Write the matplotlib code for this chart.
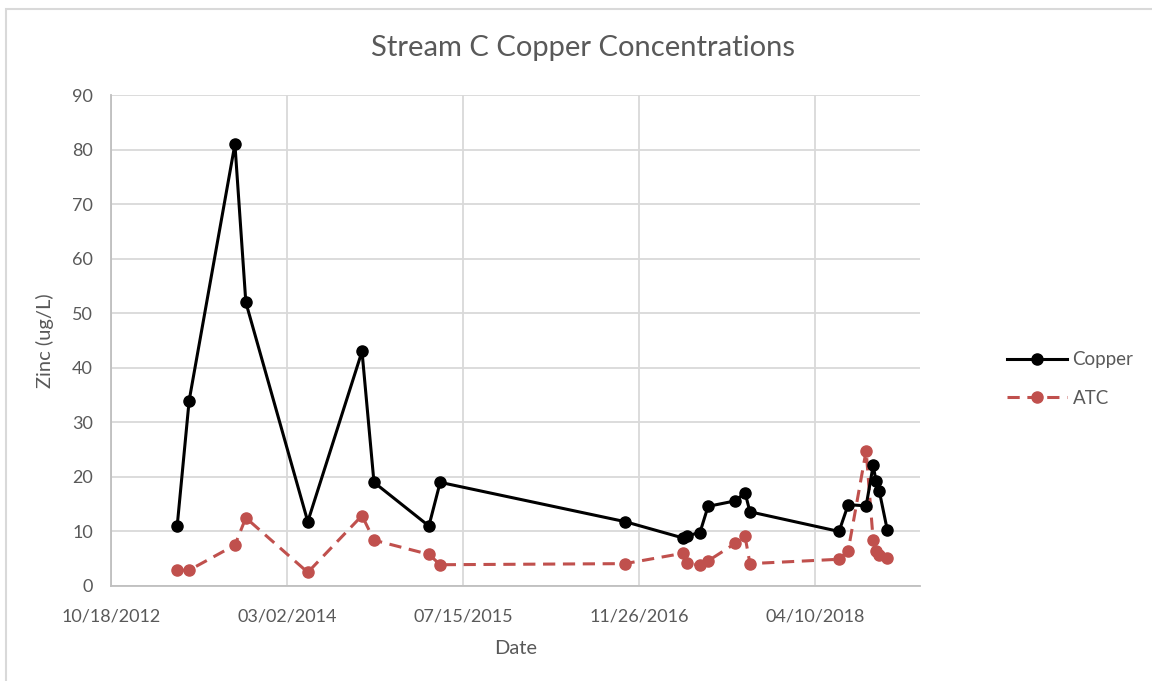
import numpy as np
import pandas as pd
import matplotlib
matplotlib.use('Agg')
import matplotlib.pyplot as plt
import matplotlib.dates as mdates
from matplotlib.patches import Rectangle

# sample dates
dates = ['2013-04-24', '2013-05-28', '2013-10-05', '2013-11-05', '2014-04-30',
         '2014-10-01', '2014-11-04', '2015-04-09', '2015-05-11', '2016-10-17',
         '2017-03-31', '2017-04-11', '2017-05-18', '2017-06-10', '2017-08-26',
         '2017-09-23', '2017-10-07', '2018-06-17', '2018-07-13', '2018-09-02',
         '2018-09-22', '2018-09-30', '2018-10-09', '2018-11-01']
copper = [11.0, 34.0, 81.0, 52.0, 11.8, 43.0, 19.0, 11.0, 19.0, 11.8,
          8.8, 9.2, 9.8, 14.6, 15.6, 17.1, 13.6, 10.0, 14.9, 14.7,
          22.1, 19.3, 17.5, 10.3]
atc = [2.9, 2.9, 7.5, 12.5, 2.5, 12.9, 8.4, 5.8, 3.9, 4.1,
       6.0, 4.2, 3.8, 4.6, 7.8, 9.1, 4.1, 4.9, 6.5, 24.8,
       8.4, 6.4, 5.6, 5.2]

x_start = '2012-10-18'
x_end = '2019-02-02'
tick_step_days = 500

t = pd.to_datetime(dates)
x0 = pd.Timestamp(x_start)
x1 = pd.Timestamp(x_end)
ticks = pd.date_range(x0, x1, freq='{}D'.format(tick_step_days))

plt.rcParams['font.family'] = ['Lato', 'DejaVu Sans']
txt = '#595959'
grid = '#d9d9d9'

fig = plt.figure(figsize=(11.52, 6.81), dpi=100)
# chart-area frame (only top/left edges visible in the screenshot)
fig.patches.append(Rectangle((6 / 1152, -0.1), 1.2, (681 - 9) / 681 + 0.1,
                             transform=fig.transFigure, fill=False,
                             edgecolor='#d9d9d9', linewidth=1.5))

ax = fig.add_axes([111 / 1152, 1 - 586 / 681, (920 - 111) / 1152, (586 - 95) / 681])

ax.plot(t, copper, color='black', linewidth=2.2, marker='o', markersize=8,
        label='Copper', zorder=3)
ax.plot(t, atc, color='#c0504d', linewidth=2.2, linestyle=(0, (4, 2.5)),
        marker='o', markersize=8, label='ATC', zorder=2)

ax.set_xlim(x0, x1)
ax.set_ylim(0, 90)
ax.set_yticks(np.arange(0, 91, 10))
ax.set_xticks(ticks)
ax.xaxis.set_major_formatter(mdates.DateFormatter('%m/%d/%Y'))

ax.grid(True, color=grid, linewidth=1.3)
ax.set_axisbelow(True)
for s in ['top', 'right']:
    ax.spines[s].set_visible(False)
for s in ['left', 'bottom']:
    ax.spines[s].set_color('#bfbfbf')
    ax.spines[s].set_linewidth(1.3)
ax.tick_params(axis='both', length=0, colors=txt, labelsize=13)
ax.tick_params(axis='x', pad=16)
ax.tick_params(axis='y', pad=13)

ax.set_xlabel('Date', color=txt, fontsize=14.5, labelpad=11)
ax.set_ylabel('Zinc (ug/L)', color=txt, fontsize=14.5, labelpad=13)
fig.text(583 / 1152, 1 - 48 / 681, 'Stream C Copper Concentrations',
         ha='center', va='center', color=txt, fontsize=21)

leg = fig.legend(loc='center left', bbox_to_anchor=(990 / 1152, 1 - 379 / 681),
                 frameon=False, fontsize=13.5, handlelength=3.2,
                 labelspacing=1.15, handletextpad=0.3)
for text in leg.get_texts():
    text.set_color(txt)

fig.savefig('out.png', dpi=100, facecolor='white')
